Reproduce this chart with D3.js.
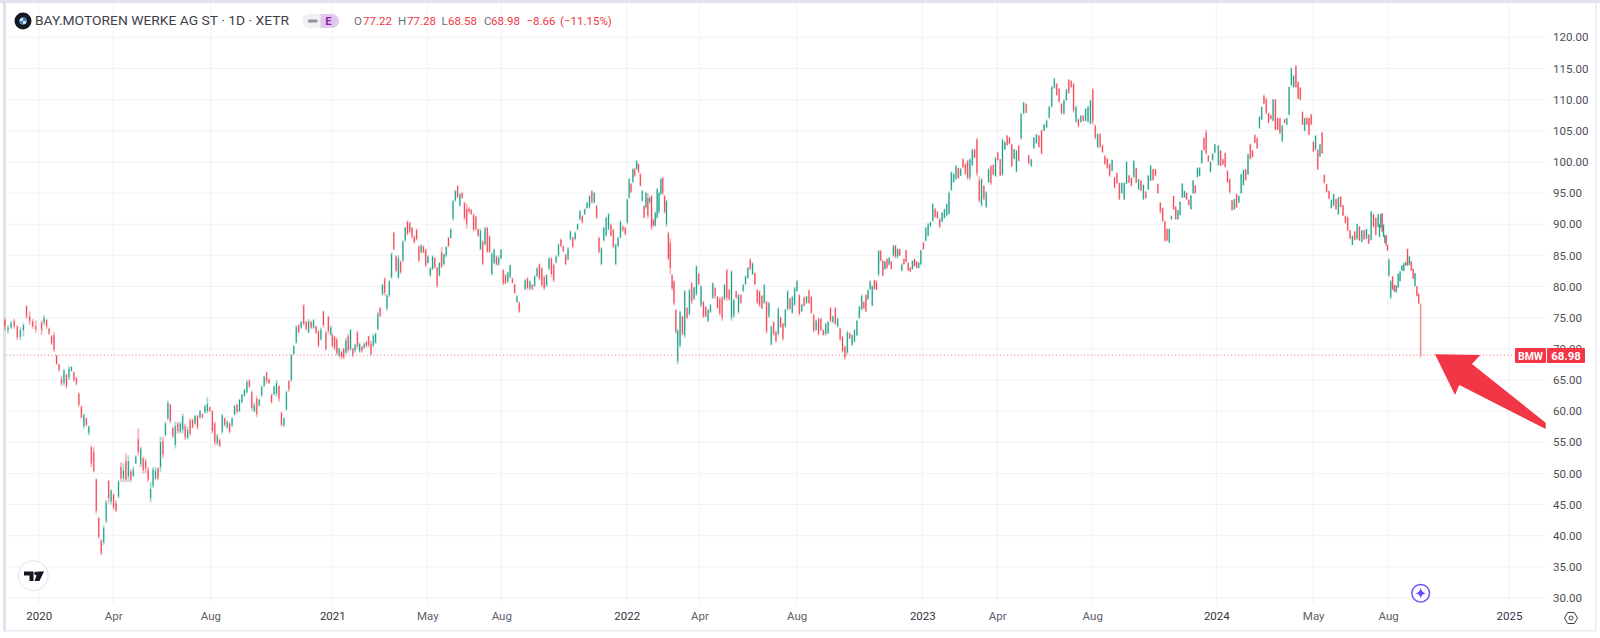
<!DOCTYPE html>
<html>
<head>
<meta charset="utf-8">
<script src="https://cdn.jsdelivr.net/npm/d3@7"></script>
<style>
    html, body { margin: 0; padding: 0; background: #fff; }
    svg { display: block; }
    text { font-family: Roboto, "Open Sans", sans-serif; }
</style>
</head>
<body>
<div id="chart"></div>
<script>
// daily bars, thinned out, as [open, high, low, close]
var bars2019 = [
[74.6,75,72.9,73.6],[73,73.8,72.4,73.4],[73.4,74.5,73.2,74.2],[74.5,74.8,73.2,73.6],[73.6,73.8,71.4,71.8],[71.9,73.5,71.4,73],[73,74.2,72,73.8],[76.8,77,74.8,75.2],[75.2,76,73.8,74.4],[74.4,74.8,73.2,73.6],[73.6,74.5,72.6,73.1]];

var bars2020 = [
[74.2,74.6,72.2,73],[74.2,75.4,73.8,75],[74.6,74.8,73.2,73.6],[73.2,73.4,72.2,72.5],[72,72.2,70.6,70.9],[72.2,72.7,69.5,69.8],[68.9,69,67.4,67.6],[67.5,67.6,66.3,66.6],[65.2,65.7,64,64.4],[64.5,66.8,64.1,66.5],
[65.8,66,63.6,64],[65.4,67.2,65,66.8],[66.5,67.2,66.3,67.1],[66.2,66.3,64.7,65],[65.3,65.5,64.1,64.4],[62.8,63,60.7,61],[60.7,60.9,58.8,59],[57.6,59.6,57.2,59.4],[58.8,59,57.5,57.8],[56.5,57.7,56.1,57.5],
[54.2,54.5,51,51.6],[53.5,54.2,50.2,50.4],[49,49.2,43.6,44],[42.8,43,39.5,39.8],[39.2,39.5,36.9,37.2],[38.9,41.7,38.5,41.2],[42.3,45.7,42,45.3],[48.8,48.9,45.2,46],[45.5,47.5,45,47.2],[46.6,46.8,44.1,44.5],
[45.2,45.7,43.8,44],[46.3,48.9,46,48.7],[51,51.8,48.6,49.2],[49.2,51.6,48.6,50.5],[52,53.2,48.6,49],[49.5,52.9,48.6,52],[50.3,50.7,48.6,49],[49.6,51.2,49.4,50.6],[51.6,52.9,51.5,52.7],[55.5,57.2,52.9,53.4],
[51.5,54.3,51,54],[52.4,52.7,50,50.5],[52,52.4,50,50.8],[50.6,51,48.6,49],[46,48.6,45.4,47.5],[48,51,47.6,50.6],[49.2,51,48.9,50.4],[50.8,51,48.9,49.2],[51,55.9,50.2,55],[55.2,55.9,52.4,53],
[56.2,58.3,55.9,58],[58.8,61.7,58.5,61.3],[61,61.2,58,58.4],[57.3,57.5,55.6,56],[54.6,58.3,54,57.6],[58,58.3,56.4,56.8],[56.7,58.3,56.4,58],[57,59.6,56.4,59.2],[57.6,58,55.4,55.8],[55.7,57.5,55.4,57],
[58.5,58.8,56,56.4],[58.6,58.8,57.2,57.4],[58,59.4,57.8,59.2],[59.2,59.4,57,57.4],[59,60.2,58.8,60],[59.5,59.6,58.8,59],[59.8,61,59.6,60.8],[60,62.3,59.6,61.2],[60.6,60.7,59.9,60],[60,60.1,56.4,56.8],
[58,58.3,54.5,55],[54.8,56.4,54.5,56],[55.4,55.6,54.2,54.4],[56.7,59.6,56.4,59.3],[58.8,59,57.5,57.8],[57.4,58.5,57.2,58.3],[58,58.3,56.4,56.7],[57.7,59,57.5,58.8],[59.5,61,59.3,60.8],[61,61.2,59.6,59.9],
[60,62,59.8,61.8],[61.4,62.8,61.2,62.6],[62.4,63.6,62.3,63.4],[63,65,62.8,64.7],[64.9,65.1,63.7,64],[63,63.3,60.1,60.5],[60,61.4,59.8,61],[62,62.5,59,59.5],[60.9,62,60.7,61.8],[62.5,64.1,62.3,63.9],
[64,65.7,63.9,65.5],[66.2,66.4,64.4,64.8],[65.1,65.2,64.4,64.5],[62.6,62.8,61.2,61.4],[62.7,64.1,62.5,63.9],[62.8,65,62.3,64.5],[64,64.1,61.5,62],[59.7,59.9,57.5,57.8],[57.7,59,57.5,58.8],[60.3,63.3,60.1,63],
[64.8,65,63.1,63.5],[65,69.2,64.7,69],[69.2,70.6,69,70.4],[71,73.8,70.8,73.5],[73.8,74,72.4,72.7],[73.4,74.5,73.2,74.3],[76.9,77.2,73.7,74],[74.3,74.5,72.9,73.2],[72.7,74.8,72.4,74.4],[74.3,74.5,73.2,73.4],
[73.4,74.8,73.2,74.6],[73.6,73.7,72.4,72.6],[72.8,73,70.2,70.5],[71.5,73.4,71.3,73.1],[76,76.1,73.4,73.8],[72.6,72.9,69.7,70],[75.1,75.3,72.4,72.8],[72.3,73.7,72.1,73.4]];

var bars2021 = [
[72.2,72.4,70.2,70.5],[71.9,72.1,69.7,70.1],[71.5,71.8,68.9,69.3],[69,70.2,68.6,70],[69.5,69.7,68.3,68.7],[70,70.2,68.3,68.6],[69.4,71.8,69.1,71.4],[72,72.4,69.4,69.8],[70,73.2,69.7,73],[70,70.2,68.6,69],
[69.7,70.8,69.4,70.6],[72.6,72.9,70,70.4],[69.6,71,69.4,70.8],[70.3,70.5,69.4,69.7],[70.2,71,70,70.8],[71.1,71.3,70.2,70.5],[72,72.1,70.2,70.6],[70.8,71.3,68.9,69.2],[70.5,72.4,70.2,72.1],[71,72.6,70.8,72.4],
[73.2,75.9,72.9,75.6],[76.5,76.7,75.1,75.3],[78.8,80.4,78.5,80.2],[81.2,81.5,78.5,79],[76.5,78.8,76.1,78.5],[78.6,81,78.3,80.8],[81.5,85.5,81.2,85.2],[88.6,88.8,85.8,86],[84.8,85,82.3,82.6],[81.5,85,81.2,84.5],
[84,84.2,82,82.3],[84.2,87.4,83.9,87.2],[87.4,89.6,87.2,89.4],[90.4,90.6,88.2,88.5],[90.2,90.4,88.5,88.8],[89.4,89.6,87.7,88],[88,88.2,86.9,87.1],[89.1,89.3,87.4,87.6],[86.4,86.6,83.9,84.2],[85.5,86.8,85.3,86.6],
[86.4,86.6,85.3,85.5],[85.9,86.1,83.1,83.4],[83.8,85,83.7,84.8],[81.8,83.1,81.5,82.9],[82.8,85,82.6,84.8],[84.5,84.7,82.9,83.1],[83,83.1,79.8,80.1],[81.8,83.9,81.6,83.8],[85.5,86.3,82.9,83.2],[83.6,85.3,83.4,85.2],
[85,86.5,84.7,86.3],[87.8,88,86.3,86.5],[87.8,89.3,87.7,89.2],[90.9,93.9,90.6,93.6],[93.8,95.5,93.6,95.3],[96.1,96.3,94.1,94.4],[93,95,92.8,94.8],[95,95.2,94.1,94.2],[93.4,93.6,90.6,91],[92.5,93.3,89.3,90],
[92.5,92.8,91.7,92],[92.3,92.4,91.5,91.6],[91.5,91.7,88.8,89.1],[91.2,91.4,89,89.2],[89.2,89.3,88,88.1],[86,89.3,85.8,88.9],[87.2,87.4,83.4,83.7],[86.8,89.6,86.6,89.3],[89.4,89.6,85.4,85.6],[88,88.2,85.4,85.6],
[82,85.5,81.8,85.2],[83.8,86.1,83.6,85.9],[84.8,85,83.4,83.5],[83.5,85,83.3,84.6],[84.5,86,84.4,85.9],[82.6,82.8,80.2,80.5],[81.8,82,80.4,80.5],[80.8,82.4,80.6,82.2],[81.5,83.5,81.3,83.4],[81.2,81.5,80.5,80.6],
[80.3,80.5,78.8,79],[77.5,78.6,77.4,78.4],[77.4,77.6,75.8,76],[79.6,81.2,79.4,81],[81.3,81.5,79.4,79.8],[79.7,81,79.4,80.8],[80.3,80.4,79.4,79.6],[80.1,81.8,79.9,81.6],[81.7,83.1,81.5,82.9],[83.5,83.7,81,81.3],
[82.9,83.1,79.9,80.2],[81.5,81.8,79.4,79.7],[80.2,82,79.9,81.8],[82.9,84.7,82.6,84.5],[84.5,84.7,81.5,82],[83.4,83.7,80.7,81],[83.9,85,83.7,84.8],[85,86.9,84.7,86.7],[87.5,87.7,86.3,86.5],[86.4,86.6,85.5,85.7],
[85.1,85.3,83.4,83.6],[84.4,86.3,84.2,86.1],[87.6,89,87.4,88.8],[87.8,88,86.1,86.4],[87.6,88.8,87.4,88.6],[89.2,90.1,89,90],[90.8,92.3,90.6,92.1],[91.3,91.5,90.1,90.3],[91.6,92.5,91.5,92.4],[92.6,93.6,92.5,93.4],
[92.7,94.7,92.5,94.5],[95.3,95.5,93.3,93.6],[93.5,95.2,93.3,95],[92.9,93.1,90.8,91.1],[87.8,88,85.3,85.6],[83.6,86.3,83.4,86.1],[87.4,89.6,87.2,89.4],[88.2,91.2,88,91],[89.2,91.8,89,91.6],[89.9,90.1,88,88.2],
[89.1,89.3,86.1,86.4],[83.6,86.9,83.4,86.7],[86.5,88,86.3,87.8],[87.9,90.6,87.7,90.4],[89.6,89.8,88.8,89],[89.4,89.6,88.2,88.4]];

var bars2022 = [
[90.3,94.1,90.1,93.9],[94.3,97.4,94.1,97.2],[96.4,96.6,95,95.2],[96.8,99,96.6,98.8],[98.8,99,97.6,97.8],[98.9,100.3,98.7,100.1],[99.6,99.8,98.2,98.4],[98,98.2,96,96.2],[93.8,95.5,93.6,95.3],[92.9,93.1,90.9,91.1],
[92.7,95.2,92.5,95],[94.2,95,90.9,91.4],[93.5,94.4,93.3,94.2],[94.5,94.7,89,89.5],[90.7,90.9,89.6,89.8],[89.8,92,89.6,91.8],[91.1,95.8,90.9,95.6],[92,95.2,91.7,95],[94.9,97.4,94.7,97.2],[97.4,97.6,94.7,95],
[94.5,94.7,91.7,92],[90,93.9,89.6,93.7],[88.6,88.8,84.2,84.5],[87,87.7,82,83],[81.8,82,79.4,79.7],[80.8,81,77,77.3],[76.2,76.4,72.4,72.8],[68,73.2,67.5,72.9],[70.5,76.1,70.2,75.9],[75.1,75.3,72.1,72.4],
[72.2,79.4,71.8,79.2],[76.5,76.7,74.8,75],[75.6,79.6,75.3,79.4],[80.5,80.7,77.2,77.6],[78,79.9,77.8,79.8],[78.8,83.4,78.5,83.2],[82,82.2,80.2,80.4],[77,80.2,76.7,80],[77.5,77.7,74.9,75.2],[76.7,76.9,75.1,75.2],
[74.5,76.4,74.2,76.2],[75.9,77.2,75.7,77],[78.2,80.7,78,80.5],[79.7,79.9,78,78.5],[78.3,78.5,76.4,76.6],[78,78.3,75.3,75.7],[78.2,78.5,74.5,75],[78,80.4,77.7,80.2],[82.6,82.8,77.7,78.2],[79.4,79.6,77.7,78],
[75,82.6,74.5,82.4],[75.3,78,75,77.8],[79.2,79.4,78,78.2],[75.9,78.8,75.6,78.6],[78.6,78.8,77.2,77.4],[79.3,80.4,79.1,80.2],[80.4,81.8,80.2,81.6],[81.4,83.1,81.2,83],[84.3,84.5,82.6,82.8],[82,83.9,81.8,83.7],
[82.1,82.3,80.2,80.4],[79.4,79.6,77.2,77.4],[79.2,79.4,76.7,77],[78.5,78.6,76.4,76.5],[77.4,80.4,77.2,80.2],[77.5,77.7,72.4,72.8],[75.2,77.5,75,77.3],[70.7,73.7,70.5,73.5],[74.2,74.5,72.1,72.4],[72.7,72.9,71,71.2],
[72.4,76.7,72.1,76.4],[75,75.2,73.4,73.5],[74,74.2,71.3,71.6],[73.6,76.4,73.4,76.2],[76.4,79.4,76.1,79.2],[78,78.2,76.3,76.4],[75.8,78.5,75.6,78.3],[77.1,79.9,76.9,79.7],[79.3,81,79.1,80.8],[78.6,78.8,75.3,75.6],
[76,77.2,75.9,77.1],[78.2,78.4,76.8,76.9],[77.4,78.5,77.2,78.4],[79.3,79.5,77.2,77.4],[78.3,78.5,75.6,75.8],[75.4,75.6,72.6,72.9],[73,74.6,72.9,74.5],[74.8,75,72.1,72.4],[74.8,75,72.9,73],[73,73.1,72.1,72.2],
[72.4,74.2,72.1,74],[72.5,74.5,72.4,74.3],[76.5,76.7,74.2,74.5],[74.3,75.3,74.1,75.2],[76.5,76.7,73.8,74],[73.6,75,73.4,74.8],[73.2,73.4,71.3,71.5],[71.9,72.1,69.4,69.6],[70.3,70.5,68.3,68.6],[69.4,72.9,69.1,72.6],
[72.5,72.6,71.6,71.7],[70.6,72.3,70.5,72.2],[71.2,73.1,71,73],[72.2,74.6,72,74.5],[75,76.9,74.8,76.7],[76.4,78.7,76.1,78.5],[77.5,77.6,76.4,76.5],[78.6,78.8,75.9,76],[78,79.5,77.8,79.4],[79.6,81,79.4,80.8],
[77,80.2,76.8,80],[81,81.1,79.5,79.6],[80.8,81,79.4,79.5],[82,85.9,81.6,85.7],[85.7,85.9,84,84.2],[84.1,84.3,81.6,81.8],[82.8,84.1,82.7,84],[84.4,84.5,82.9,83],[83.5,84.7,83.4,84.6],[84,84.1,82.7,82.8],
[85,86.7,84.8,86.5],[86.5,86.7,84.5,84.8],[84.8,86.1,84.5,86],[86,86.1,84.9,85],[82.6,83.7,82.4,83.5],[84.4,84.5,83.5,83.6],[85.8,85.9,83.9,84],[83.8,83.9,82.5,82.6],[83,83.1,82.3,82.4],[82.8,84.2,82.7,84.1],
[84.4,84.5,83.2,83.3],[84,84.1,82.9,83],[83,83.9,82.9,83.8],[83.6,85.9,83.4,85.8]];

var bars2023 = [
[87,87.2,85.9,86],[87.4,89.6,87.2,89.4],[88.2,90.2,88,90],[89.7,90.4,89.6,90.3],[90.6,93.4,90.4,93.2],[92.4,92.6,91,91.2],[92,92.1,90.9,91],[90.8,91,89.4,89.6],[90.4,91.9,90.3,91.8],[91,92.5,90.9,92.4],
[91.4,93.4,91.2,93.2],[91.7,95.3,91.5,95],[95.5,98.5,95.3,98.3],[96.8,98.2,96.6,98],[97.3,99.5,97.1,99.3],[99,99.1,97.3,97.4],[97.8,99,97.7,98.9],[100.4,100.6,99,99.2],[99.6,99.8,97.9,98.1],[100.1,100.3,97.1,97.4],
[97.5,100.6,97.1,100.4],[99.5,102.1,99.3,101.9],[102,102.1,100.6,100.7],[103.6,103.8,97.7,98.2],[97,97.7,93.4,93.8],[93.1,97.4,92.8,97.2],[96.1,96.3,93.9,94.1],[92.8,95.3,92.6,95.1],[96.8,99,96.6,98.8],[99.3,99.5,96.3,96.6],
[99.5,99.6,97.9,98],[97.8,100.8,97.6,100.6],[101.5,101.6,100.2,100.3],[100.4,100.5,97.7,97.8],[98,103.8,97.8,103.5],[102,103.3,101.9,103.2],[104.2,104.3,102.6,102.7],[103.9,104,102.8,102.9],[102.8,102.9,99.2,99.3],[100.5,102.1,100.4,102],
[98.5,101.9,98.3,101.8],[102.6,102.7,100.1,100.2],[103.8,107.9,103.6,107.7],[107.8,109.7,107.6,109.5],[109.3,109.4,107.8,107.9],[101,101.2,99.5,99.8],[99.3,100.5,99.2,100.4],[102.2,104,102.1,103.9],[103,104.5,102.9,104.4],[104.2,104.3,102.3,102.4],
[105,105.2,101.2,101.4],[105,106.1,104.9,106],[105.6,106.8,105.4,106.6],[107.1,109,107,108.8],[108.9,112.2,108.7,112],[111.9,113.5,111.7,113.3],[112.5,112.7,110.6,110.8],[111.7,111.9,109.5,109.7],[109.3,109.5,107.6,107.8],[107.8,110,107.6,109.8],
[109.9,111.7,109.8,111.6],[113.1,113.3,110.9,111.1],[113,113.1,111.9,112],[112.5,112.7,107.9,108.2],[106.5,109,106.3,108.8],[106.8,107,105.5,105.8],[106.4,107.5,106.3,107.4],[107.4,107.5,106.5,106.6],[106.6,108.6,106.5,108.5],[106.5,109,106.3,108.8],
[106.2,110,106,109.8],[111.6,111.8,106,106.5],[105.8,106,103.6,103.9],[102.4,104.6,102.2,104.4],[104.4,104.6,102.2,102.5],[102.6,102.8,101.4,101.6],[100.9,101.1,99.5,99.7],[100.5,100.6,98.9,99],[99.6,99.8,97.6,97.8],[98.6,100.4,98.5,100.3],
[97.4,97.6,95.7,95.9],[98.2,98.3,96.5,96.6],[96.6,96.7,93.9,94],[95,96.7,94.9,96.6],[94,96.7,93.9,96.6],[96.5,100.1,96.4,100],[97.8,97.9,96.6,96.7],[97.4,97.5,96.1,96.2],[97.6,100.3,97.4,100.1],[99,99.1,96.6,96.7],
[95.6,97.3,95.5,97.2],[97,97.1,95.3,95.4],[94,96.4,93.9,96.3],[95.2,95.3,94.1,94.2],[95.6,97.9,95.5,97.8],[97,99.5,96.9,99.4],[98.8,98.9,97,97.1],[98.8,98.9,97.7,97.8],[96.4,96.5,94.9,95],[93.4,93.6,91.7,92],
[92.6,92.7,90.4,90.5],[90.4,90.6,87.1,87.4],[89.2,89.3,87.3,87.4],[87.1,89.3,87,89.2],[90.8,91.4,90.7,91.3],[94.5,94.6,92.3,92.4],[92.8,92.9,90.7,90.8],[90.8,92.3,90.7,92.2],[91.5,93.7,91.4,93.6],[94.3,96.6,94.2,96.5],
[94.3,95.4,94.2,95.3],[95,95.1,93.9,94],[93.9,94,93,93.1],[92.4,94.7,92.3,94.6],[95,97.1,94.9,97],[96.2,96.3,94.9,95],[97.6,99.1,97.5,99],[97.8,99.2,97.7,99],[99.8,101.9,99.7,101.8],[103.8,104,101.8,102],
[104.8,105.2,101.2,101.4],[101,101.1,100,100.1],[98.4,100.1,98.3,100],[100.3,101.4,100.2,101.3],[101.5,102.9,101.4,102.8]];

var bars2024 = [
[99.5,102.7,99.4,102.6],[101.8,101.9,99.3,99.4],[100.4,100.5,99.5,99.6],[101.4,101.5,99.1,99.2],[98.5,98.7,96.6,96.8],[97.2,97.4,94.9,95.2],[93.8,93.9,92.2,92.3],[92.4,94.1,92.3,94],[94.8,94.9,92.6,92.7],[93.5,94.6,93.4,94.5],
[95,98.1,94.9,98],[96.3,98.8,96.2,98.7],[98.8,98.9,97,97.1],[98,101.3,97.9,101.2],[102.8,102.9,100.4,100.5],[101.8,101.9,100.7,100.8],[104.3,104.4,103,103.1],[103.8,103.9,102.1,102.2],[105.5,107.4,105.3,107.2],[106.8,108.9,106.7,108.8],
[110.6,110.8,109.2,109.4],[110,110.3,107.6,107.9],[107.8,107.9,106.2,106.3],[107.5,107.6,106.8,106.9],[106.6,110.1,106.5,110],[110,110.1,105.1,105.2],[107,107.1,105.1,105.2],[107,107.1,104.5,104.6],[103.3,105.9,103.2,105.8],[106.8,106.9,106.2,106.3],
[106,107.1,105.9,107],[107.6,112.1,107.5,112],[112.3,115.2,112.2,115],[112,113.9,111.9,113.8],[115.4,115.5,111.9,112],[112.8,112.9,110.1,110.2],[111.9,112,109.9,110],[108,108.1,105.9,106],[105,107.1,104.9,107],[107,107.2,105.9,106],
[107,107.1,104.3,104.4],[107.6,107.7,105.9,106],[103.2,103.3,101.6,101.7],[102,104.3,101.9,104.2],[101.9,102,98.7,98.8],[100.9,102.9,100.8,102.8],[104.7,104.8,101.3,101.4],[97.9,98,96.5,96.7],[96.4,96.5,95.1,95.2],[95.3,95.4,94,94.1],
[92.6,94,92.5,93.9],[93,94.9,92.9,94.8],[94,94.1,92.3,92.4],[91.6,94.4,91.5,94.3],[94.4,94.5,92.7,92.8],[93,93.1,91.3,91.4],[91.3,91.4,90.1,90.2],[91.1,91.2,88.9,89],[89,89.1,87.6,87.7],[86.7,88.2,86.6,88.1],
[88.8,88.9,87.4,87.5],[87.6,90.1,87.5,90],[89.6,89.7,87.3,87.4],[87.2,89.1,87.1,89],[89,89.1,87.5,87.6],[87.7,89.3,87.6,89.2],[88.3,88.4,86.8,86.9],[87.5,92.1,87.4,92],[91.6,91.7,89.5,89.6],[91,91.1,88.2,88.3],
[89.6,91.7,89.5,91.6],[88,90,87.9,89.9],[89.5,91.7,89.4,91.6],[91.7,91.8,88.7,88.8],[88,90,87.9,89.9],[87,88.3,86.9,88.2],[88.2,88.3,86.5,86.6],[86.6,86.7,85.7,85.8],[81.8,84.5,81.5,84.3],[78.3,81,78,80.8],
[81.6,81.7,79.4,79.5],[80.2,80.3,79.1,79.2],[79.1,80.2,79,80.1],[79.9,82.1,79.8,82],[80.9,82.5,80.8,82.4],[82.6,83.4,82.5,83.3],[82.5,83.8,82.4,83.7],[83.4,84,83.3,83.9],[86,86.1,83.3,83.4],[83.5,84.9,83.4,84.8],
[84,84.1,82.5,82.6],[82.8,82.9,81.2,81.3],[80.1,82.2,80,82.1],[80,80.1,78.4,78.5],[78.8,78.9,77.2,77.3],[77.22,77.28,68.58,68.98]];

// where some bars of each series sit on the time axis, as [bar number, year]
var anchors2019 = [[0, 2019.885], [10, 2019.99]];
var anchors2020 = [[0, 2020.01], [24, 2020.213], [117, 2020.995]];
var anchors2021 = [[0, 2021], [55, 2021.4256], [82, 2021.635], [83, 2021.655], [125, 2021.995]];
var anchors2022 = [[0, 2022.002], [27, 2022.1725], [79, 2022.584], [105, 2022.795], [133, 2022.995]];
var anchors2023 = [[0, 2023.004], [42, 2023.336], [55, 2023.449], [100, 2023.8177], [124, 2023.995]];
var anchors2024 = [[0, 2024.007], [34, 2024.272], [47, 2024.369], [70, 2024.553], [78, 2024.5896], [95, 2024.698]];

var barSeries = [bars2019, bars2020, bars2021, bars2022, bars2023, bars2024];
var barAnchors = [anchors2019, anchors2020, anchors2021, anchors2022, anchors2023, anchors2024];

var priceTicks = [30, 35, 40, 45, 50, 55, 60, 65, 70, 75, 80, 85, 90, 95, 100, 105, 110, 115, 120];
var timeTicks = [2020, 2020.254, 2020.585, 2021, 2021.323, 2021.574, 2022, 2022.246, 2022.575, 2023, 2023.255, 2023.578, 2024, 2024.331, 2024.587, 2025];
var timeLabels = ["2020", "Apr", "Aug", "2021", "May", "Aug", "2022", "Apr", "Aug", "2023", "Apr", "Aug", "2024", "May", "Aug", "2025"];
var yearTicks = [2020, 2021, 2022, 2023, 2024, 2025];

var lastPrice = 68.98;
var ohlcLabels = ["O", "77.22", "H", "77.28", "L", "68.58", "C", "68.98", "\u22128.66", "(\u221211.15%)"];

var svgWidth = 1600, svgHeight = 638;
var red = "#f23645", green = "#089981";
var gridColor = "#f1f2f6";
var ohlcX = [354, 363, 398, 407, 441.6, 448, 484, 491, 526.5, 560];

var svg = d3.select("#chart").append("svg")
    .attr("width", svgWidth)
    .attr("height", svgHeight);

// scales: time axis is piecewise, one stretch per year as the chart has it
var xScale = d3.scaleLinear()
    .domain(yearTicks)
    .range([38.7, 332.3, 626.7, 922.3, 1216.3, 1509]);

var yScale = d3.scaleLinear()
    .domain([30, 120])
    .range([598, 37.3]);

// frame
svg.append("rect").attr("width", svgWidth).attr("height", 3).attr("fill", "#e0e3eb");
svg.append("rect").attr("x", 3).attr("width", 3).attr("height", 630).attr("fill", "#e0e3eb");
svg.append("rect").attr("x", 3).attr("y", 630).attr("width", 1593).attr("height", 1.5).attr("fill", "#e9ebf1");
svg.append("rect").attr("x", 1595).attr("width", 1.5).attr("height", 631).attr("fill", "#e9ebf1");

// grid
svg.append("g").selectAll("line")
    .data(priceTicks)
    .enter().append("line")
    .attr("x1", 6).attr("x2", 1546)
    .attr("y1", d => yScale(d)).attr("y2", d => yScale(d))
    .attr("stroke", gridColor);

svg.append("g").selectAll("line")
    .data(timeTicks)
    .enter().append("line")
    .attr("x1", d => xScale(d)).attr("x2", d => xScale(d))
    .attr("y1", 3).attr("y2", 604)
    .attr("stroke", gridColor);

// axes
var yAxis = d3.axisRight(yScale).tickValues(priceTicks).tickSize(0).tickFormat(d3.format(".2f"));
var yAxisGroup = svg.append("g").attr("transform", "translate(1551, 0)").call(yAxis);
yAxisGroup.select(".domain").remove();
yAxisGroup.selectAll("text").attr("font-size", 11.5).attr("fill", "#4c4f59").attr("x", 2);

var xAxis = d3.axisBottom(xScale).tickValues(timeTicks).tickSize(0).tickFormat((d, i) => timeLabels[i]);
var xAxisGroup = svg.append("g").attr("transform", "translate(0, 608)").call(xAxis);
xAxisGroup.select(".domain").remove();
xAxisGroup.selectAll("text")
    .attr("font-size", 11.5)
    .attr("y", 4)
    .attr("fill", (d, i) => timeLabels[i].length == 4 ? "#33363f" : "#5d606b");

// candles
var bars = [];
barSeries.forEach(function(series, s) {
    var place = d3.scaleLinear()
        .domain(barAnchors[s].map(a => a[0]))
        .range(barAnchors[s].map(a => a[1]));
    series.forEach(function(bar, i) {
        bars.push({ t: place(i), open: bar[0], high: bar[1], low: bar[2], close: bar[3] });
    });
});

var candleColor = d => d.close >= d.open ? green : red;
var lastBar = bars[bars.length - 1];

var candles = svg.append("g");
candles.selectAll(".wick")
    .data(bars)
    .enter().append("line")
    .attr("class", "wick")
    .attr("x1", d => xScale(d.t)).attr("x2", d => xScale(d.t))
    .attr("y1", d => yScale(d.high)).attr("y2", d => yScale(d.low))
    .attr("stroke", candleColor)
    .attr("stroke-width", 1.8)
    .attr("stroke-opacity", 0.36);

candles.selectAll(".body")
    .data(bars)
    .enter().append("rect")
    .attr("class", "body")
    .attr("x", d => xScale(d.t) - 0.5)
    .attr("width", 1)
    .attr("y", d => yScale(Math.max(d.open, d.close)))
    .attr("height", d => Math.max(0.6, Math.abs(yScale(d.open) - yScale(d.close))))
    .attr("fill", candleColor)
    .attr("fill-opacity", d => d === lastBar ? 0.3 : 0.9);

// last price line and labels
svg.append("line")
    .attr("x1", 6).attr("x2", 1515)
    .attr("y1", yScale(lastPrice)).attr("y2", yScale(lastPrice))
    .attr("stroke", red)
    .attr("stroke-opacity", 0.7)
    .attr("stroke-dasharray", "1 2.5");

// arrow drawn over the screenshot
svg.append("polygon")
    .attr("points", "1435,354.3 1480.3,355 1472,364 1545.7,422.7 1545.7,429 1459.3,385 1455,395")
    .attr("fill", "#f23645");

svg.append("rect").attr("x", 1515).attr("y", 348).attr("width", 31).attr("height", 15).attr("rx", 1).attr("fill", red);
svg.append("rect").attr("x", 1547).attr("y", 348).attr("width", 38).attr("height", 15).attr("rx", 1).attr("fill", red);
svg.append("text").attr("x", 1530.5).attr("y", 359.5).attr("text-anchor", "middle").attr("font-size", 10.5).attr("font-weight", 700).attr("fill", "#fff").text("BMW");
svg.append("text").attr("x", 1566).attr("y", 359.7).attr("text-anchor", "middle").attr("font-size", 11.5).attr("font-weight", 700).attr("fill", "#fff").text("68.98");

// header
svg.append("circle").attr("cx", 23).attr("cy", 21).attr("r", 8.5).attr("fill", "#131722");
svg.append("circle").attr("cx", 23).attr("cy", 21).attr("r", 3.6).attr("fill", "#cfe3f5");
svg.append("path").attr("d", "M23 21V17.4A3.6 3.6 0 0 1 26.6 21ZM23 21V24.6A3.6 3.6 0 0 1 19.4 21Z").attr("fill", "#3b82c4");

svg.append("text")
    .attr("x", 35).attr("y", 25)
    .attr("font-size", 13)
    .attr("fill", "#3d404a")
    .attr("textLength", 254)
    .attr("lengthAdjust", "spacingAndGlyphs")
    .text("BAY.MOTOREN WERKE AG ST \u00b7 1D \u00b7 XETR");

svg.append("path").attr("d", "M320.5 14H309A7 7 0 0 0 309 28H320.5Z").attr("fill", "#f0f1f4");
svg.append("path").attr("d", "M320.5 14H332A7 7 0 0 1 332 28H320.5Z").attr("fill", "#e1c8ee");
svg.append("rect").attr("x", 308).attr("y", 19.5).attr("width", 9.5).attr("height", 3).attr("rx", 1).attr("fill", "#8f929b");
svg.append("text").attr("x", 328.5).attr("y", 25.2).attr("text-anchor", "middle").attr("font-size", 11.5).attr("font-weight", 700).attr("fill", "#8e24aa").text("E");

svg.append("g").selectAll("text")
    .data(ohlcLabels)
    .enter().append("text")
    .attr("x", (d, i) => ohlcX[i]).attr("y", 25)
    .attr("font-size", 11.5)
    .attr("fill", d => /^[OHLC]$/.test(d) ? "#6a6d78" : red)
    .text(d => d);

// tradingview badge
svg.append("circle").attr("cx", 33.3).attr("cy", 575.7).attr("r", 15).attr("fill", "#fff").attr("stroke", "#e0e3eb");
svg.append("path").attr("d", "M24 571.5H33.5V581H29.5V575.5H24Z M38 571.5H44L39.5 581H34.5Z").attr("fill", "#131722");
svg.append("circle").attr("cx", 36.2).attr("cy", 573.4).attr("r", 1.9).attr("fill", "#131722");

// sparkle button
svg.append("circle").attr("cx", 1420.7).attr("cy", 593.3).attr("r", 8.8).attr("fill", "#fff").attr("stroke", "#6a4cff").attr("stroke-width", 1.4);
svg.append("path").attr("d", "M1420.7 587.8Q1421.4 592.6 1426.2 593.3Q1421.4 594 1420.7 598.8Q1420 594 1415.2 593.3Q1420 592.6 1420.7 587.8Z").attr("fill", "#6a4cff");

// settings icon
svg.append("path").attr("d", "M1564.5 618L1567.7 612.5H1574.3L1577.5 618L1574.3 623.5H1567.7Z").attr("fill", "none").attr("stroke", "#3d404a");
svg.append("circle").attr("cx", 1571).attr("cy", 618).attr("r", 2).attr("fill", "none").attr("stroke", "#3d404a");
</script>
</body>
</html>
